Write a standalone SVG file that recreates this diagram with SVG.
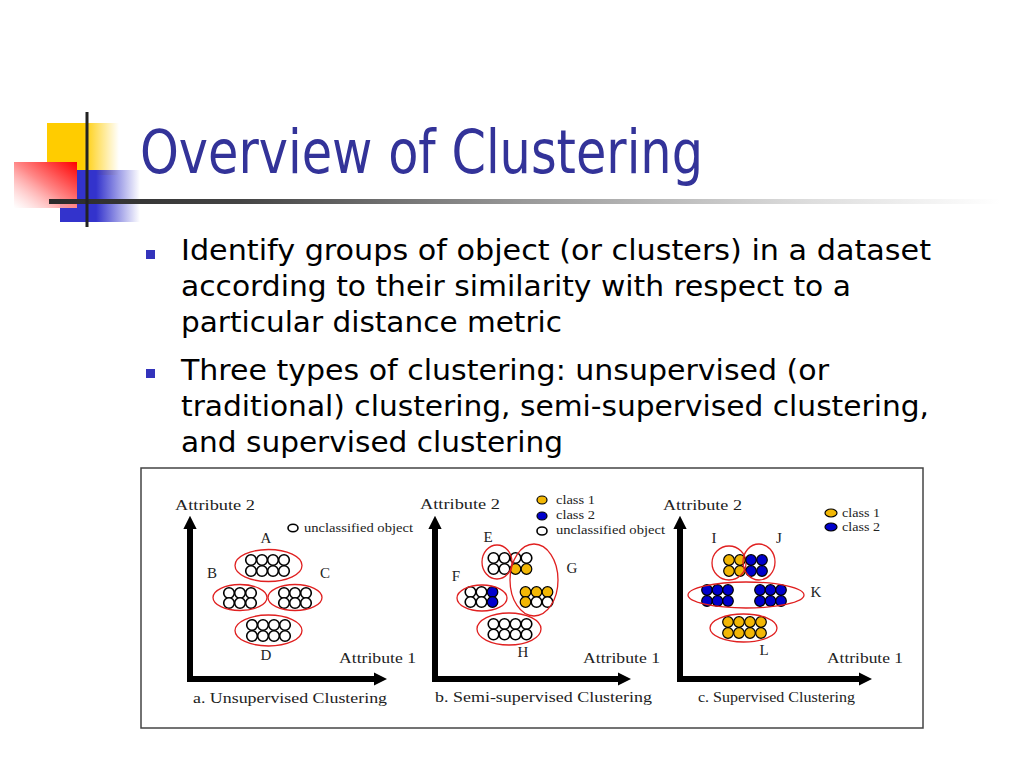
<svg xmlns="http://www.w3.org/2000/svg" width="1024" height="768" viewBox="0 0 1024 768">
<defs>
<style>
.title{font-family:"DejaVu Sans","Liberation Sans",sans-serif;font-size:60px;fill:#333399}
.body{font-family:"DejaVu Sans","Liberation Sans",sans-serif;font-size:29px;fill:#000}
.lbl{font-family:"Liberation Serif","Times New Roman",serif;font-size:15px;fill:#222}
.lg{font-family:"Liberation Serif","Times New Roman",serif;font-size:12px;fill:#222}
.cap{font-family:"Liberation Serif","Times New Roman",serif;font-size:15px;fill:#222}
.w{fill:#fff;stroke:#000;stroke-width:1.6}
.y{fill:#F2B705;stroke:#000;stroke-width:1.2}
.b{fill:#0000CC;stroke:#000;stroke-width:1.2}
.cl{fill:none;stroke:#E02020;stroke-width:1.3}
.ax{fill:none;stroke:#000;stroke-width:6}
.bul{fill:#3333BB}
</style>
<linearGradient id="gY" x1="0" y1="0" x2="1" y2="0">
<stop offset="0" stop-color="#FFCC00"/><stop offset="0.5" stop-color="#FFCC00"/><stop offset="1" stop-color="#FFCC00" stop-opacity="0"/>
</linearGradient>
<linearGradient id="gB" x1="0" y1="0" x2="1" y2="0">
<stop offset="0" stop-color="#3333CC"/><stop offset="0.45" stop-color="#3333CC"/><stop offset="1" stop-color="#3333CC" stop-opacity="0"/>
</linearGradient>
<linearGradient id="gR" x1="1" y1="0" x2="0" y2="1">
<stop offset="0" stop-color="#FF0000"/><stop offset="0.5" stop-color="#FF8888"/><stop offset="1" stop-color="#FFFFFF" stop-opacity="0.6"/>
</linearGradient>
<linearGradient id="gBar" x1="0" y1="0" x2="1" y2="0">
<stop offset="0" stop-color="#2a2a2a"/><stop offset="0.2" stop-color="#444"/><stop offset="0.5" stop-color="#999"/><stop offset="0.8" stop-color="#ddd"/><stop offset="1" stop-color="#fff"/>
</linearGradient>
<marker id="arr" viewBox="0 0 10 10" refX="0" refY="5" markerWidth="2.2" markerHeight="2.4" orient="auto" markerUnits="strokeWidth">
<path d="M0,0 L10,5 L0,10 z" fill="#000"/>
</marker>
</defs>
<rect width="1024" height="768" fill="#fff"/>

<g id="logo">
<rect x="47" y="123" width="72" height="52" fill="url(#gY)"/>
<rect x="60" y="170" width="80" height="52" fill="url(#gB)"/>
<rect x="14" y="162" width="63" height="46" fill="url(#gR)"/>
<rect x="49" y="199" width="951" height="5" fill="url(#gBar)"/>
<rect x="85.5" y="112" width="3" height="115" fill="#222"/>
</g>

<g id="title">
<text class="title" x="140" y="173" textLength="563" lengthAdjust="spacingAndGlyphs">Overview of Clustering</text>
</g>

<g id="bullets">
<rect class="bul" x="146" y="250" width="9" height="9"/>
<rect class="bul" x="146" y="369" width="9" height="9"/>
<text class="body" x="181" y="260" textLength="750" lengthAdjust="spacingAndGlyphs">Identify groups of object (or clusters) in a dataset</text>
<text class="body" x="181" y="296" textLength="670" lengthAdjust="spacingAndGlyphs">according to their similarity with respect to a</text>
<text class="body" x="181" y="332" textLength="381" lengthAdjust="spacingAndGlyphs">particular distance metric</text>
<text class="body" x="181" y="380" textLength="648" lengthAdjust="spacingAndGlyphs">Three types of clustering: unsupervised (or</text>
<text class="body" x="181" y="416" textLength="748" lengthAdjust="spacingAndGlyphs">traditional) clustering, semi-supervised clustering,</text>
<text class="body" x="181" y="452" textLength="382" lengthAdjust="spacingAndGlyphs">and supervised clustering</text>
</g>

<g id="figure">
<rect x="141" y="468" width="782" height="260" fill="#fff" stroke="#444" stroke-width="1.5"/>

<g id="panel-a">
<g id="axes-a">
<path class="ax" d="M190,682 V529" marker-end="url(#arr)"/>
<path class="ax" d="M187,679 H374" marker-end="url(#arr)"/>
</g>
<text class="lbl" x="175" y="510" textLength="80" lengthAdjust="spacingAndGlyphs">Attribute 2</text>
<text class="lbl" x="339" y="663" textLength="77" lengthAdjust="spacingAndGlyphs">Attribute 1</text>
<text class="cap" x="193" y="703" textLength="194" lengthAdjust="spacingAndGlyphs">a. Unsupervised Clustering</text>
<ellipse class="w" cx="293" cy="528" rx="5" ry="3.8"/>
<text class="lg" x="304" y="532" textLength="109" lengthAdjust="spacingAndGlyphs">unclassified object</text>
<text class="lbl" x="266" y="543" text-anchor="middle">A</text>
<text class="lbl" x="212" y="578" text-anchor="middle">B</text>
<text class="lbl" x="325" y="578" text-anchor="middle">C</text>
<text class="lbl" x="266" y="660" text-anchor="middle">D</text>
<g id="cluster-A">
<circle class="w" cx="251" cy="560" r="5.3"/><circle class="w" cx="262" cy="560" r="5.3"/><circle class="w" cx="273" cy="560" r="5.3"/><circle class="w" cx="284" cy="560" r="5.3"/>
<circle class="w" cx="251" cy="571" r="5.3"/><circle class="w" cx="262" cy="571" r="5.3"/><circle class="w" cx="273" cy="571" r="5.3"/><circle class="w" cx="284" cy="571" r="5.3"/>
<ellipse class="cl" cx="268.5" cy="565.5" rx="33.5" ry="16"/>
</g>
<g id="cluster-B">
<circle class="w" cx="229" cy="593" r="5.3"/><circle class="w" cx="240" cy="593" r="5.3"/><circle class="w" cx="251" cy="593" r="5.3"/>
<circle class="w" cx="229" cy="603" r="5.3"/><circle class="w" cx="240" cy="603" r="5.3"/><circle class="w" cx="251" cy="603" r="5.3"/>
<ellipse class="cl" cx="240" cy="597.5" rx="27" ry="13"/>
</g>
<g id="cluster-C">
<circle class="w" cx="284" cy="593" r="5.3"/><circle class="w" cx="295" cy="593" r="5.3"/><circle class="w" cx="306" cy="593" r="5.3"/>
<circle class="w" cx="284" cy="603" r="5.3"/><circle class="w" cx="295" cy="603" r="5.3"/><circle class="w" cx="306" cy="603" r="5.3"/>
<ellipse class="cl" cx="295" cy="597.5" rx="27" ry="13"/>
</g>
<g id="cluster-D">
<circle class="w" cx="252" cy="625" r="5.3"/><circle class="w" cx="263" cy="625" r="5.3"/><circle class="w" cx="274" cy="625" r="5.3"/><circle class="w" cx="285" cy="625" r="5.3"/>
<circle class="w" cx="252" cy="636" r="5.3"/><circle class="w" cx="263" cy="636" r="5.3"/><circle class="w" cx="274" cy="636" r="5.3"/><circle class="w" cx="285" cy="636" r="5.3"/>
<ellipse class="cl" cx="268.5" cy="630.5" rx="33.5" ry="15.5"/>
</g>
</g>

<g id="panel-b">
<g id="axes-b">
<path class="ax" d="M435,682 V529" marker-end="url(#arr)"/>
<path class="ax" d="M432,679 H618" marker-end="url(#arr)"/>
</g>
<text class="lbl" x="420" y="509" textLength="80" lengthAdjust="spacingAndGlyphs">Attribute 2</text>
<text class="lbl" x="583" y="663" textLength="77" lengthAdjust="spacingAndGlyphs">Attribute 1</text>
<text class="cap" x="435" y="702" textLength="217" lengthAdjust="spacingAndGlyphs">b. Semi-supervised Clustering</text>
<ellipse class="y" cx="542" cy="500" rx="5" ry="4"/>
<text class="lg" x="556" y="504" textLength="39" lengthAdjust="spacingAndGlyphs">class 1</text>
<ellipse class="b" cx="542" cy="516" rx="5" ry="4"/>
<text class="lg" x="556" y="519" textLength="39" lengthAdjust="spacingAndGlyphs">class 2</text>
<ellipse class="w" cx="542" cy="531" rx="5" ry="4"/>
<text class="lg" x="556" y="534" textLength="109" lengthAdjust="spacingAndGlyphs">unclassified object</text>
<text class="lbl" x="488" y="542" text-anchor="middle">E</text>
<text class="lbl" x="456" y="581" text-anchor="middle">F</text>
<text class="lbl" x="572" y="573" text-anchor="middle">G</text>
<text class="lbl" x="523" y="657" text-anchor="middle">H</text>
<g id="cluster-EG">
<circle class="w" cx="493.5" cy="558" r="5.3"/><circle class="w" cx="504.5" cy="558" r="5.3"/><circle class="w" cx="515.5" cy="558" r="5.3"/><circle class="w" cx="526.5" cy="558" r="5.3"/>
<circle class="w" cx="493.5" cy="569" r="5.3"/><circle class="w" cx="504.5" cy="569" r="5.3"/><circle class="y" cx="515.5" cy="569" r="5.3"/><circle class="y" cx="526.5" cy="569" r="5.3"/>
<circle class="y" cx="525.5" cy="592" r="5.3"/><circle class="y" cx="536.5" cy="592" r="5.3"/><circle class="y" cx="547.5" cy="592" r="5.3"/>
<circle class="y" cx="525.5" cy="602" r="5.3"/><circle class="w" cx="536.5" cy="602" r="5.3"/><circle class="w" cx="547.5" cy="602" r="5.3"/>
<ellipse class="cl" cx="497" cy="562" rx="15" ry="17"/>
<ellipse class="cl" cx="534" cy="580" rx="24" ry="36"/>
</g>
<g id="cluster-F">
<circle class="w" cx="470.5" cy="592" r="5.3"/><circle class="w" cx="481.5" cy="592" r="5.3"/><circle class="b" cx="492.5" cy="592" r="5.3"/>
<circle class="w" cx="470.5" cy="602" r="5.3"/><circle class="w" cx="481.5" cy="602" r="5.3"/><circle class="b" cx="492.5" cy="602" r="5.3"/>
<ellipse class="cl" cx="482" cy="598" rx="25" ry="13"/>
</g>
<g id="cluster-H">
<circle class="w" cx="493.5" cy="624" r="5.3"/><circle class="w" cx="504.5" cy="624" r="5.3"/><circle class="w" cx="515.5" cy="624" r="5.3"/><circle class="w" cx="526.5" cy="624" r="5.3"/>
<circle class="w" cx="493.5" cy="634.5" r="5.3"/><circle class="w" cx="504.5" cy="634.5" r="5.3"/><circle class="w" cx="515.5" cy="634.5" r="5.3"/><circle class="w" cx="526.5" cy="634.5" r="5.3"/>
<ellipse class="cl" cx="509" cy="629" rx="32" ry="16"/>
</g>
</g>

<g id="panel-c">
<g id="axes-c">
<path class="ax" d="M680,682 V529" marker-end="url(#arr)"/>
<path class="ax" d="M677,679 H859" marker-end="url(#arr)"/>
</g>
<text class="lbl" x="663" y="510" textLength="79" lengthAdjust="spacingAndGlyphs">Attribute 2</text>
<text class="lbl" x="827" y="663" textLength="76" lengthAdjust="spacingAndGlyphs">Attribute 1</text>
<text class="cap" x="698" y="702" textLength="157" lengthAdjust="spacingAndGlyphs">c. Supervised Clustering</text>
<ellipse class="y" cx="831" cy="513" rx="6" ry="4"/>
<text class="lg" x="842" y="517" textLength="38" lengthAdjust="spacingAndGlyphs">class 1</text>
<ellipse class="b" cx="831" cy="527" rx="6" ry="4"/>
<text class="lg" x="842" y="531" textLength="38" lengthAdjust="spacingAndGlyphs">class 2</text>
<text class="lbl" x="714" y="543" text-anchor="middle">I</text>
<text class="lbl" x="779" y="543" text-anchor="middle">J</text>
<text class="lbl" x="816" y="597" text-anchor="middle">K</text>
<text class="lbl" x="764" y="655" text-anchor="middle">L</text>
<g id="cluster-I">
<circle class="y" cx="729" cy="560" r="5.3"/><circle class="y" cx="740" cy="560" r="5.3"/>
<circle class="y" cx="729" cy="571" r="5.3"/><circle class="y" cx="740" cy="571" r="5.3"/>
<ellipse class="cl" cx="729" cy="563" rx="17" ry="17"/>
</g>
<g id="cluster-J">
<circle class="b" cx="751" cy="560" r="5.3"/><circle class="b" cx="762" cy="560" r="5.3"/>
<circle class="b" cx="751" cy="571" r="5.3"/><circle class="b" cx="762" cy="571" r="5.3"/>
<ellipse class="cl" cx="759" cy="562" rx="16" ry="18"/>
</g>
<g id="cluster-K">
<circle class="b" cx="707" cy="590" r="5.3"/><circle class="b" cx="717.5" cy="590" r="5.3"/><circle class="b" cx="728" cy="590" r="5.3"/>
<circle class="b" cx="707" cy="601" r="5.3"/><circle class="b" cx="717.5" cy="601" r="5.3"/><circle class="b" cx="728" cy="601" r="5.3"/>
<circle class="b" cx="760" cy="590" r="5.3"/><circle class="b" cx="770.5" cy="590" r="5.3"/><circle class="b" cx="781" cy="590" r="5.3"/>
<circle class="b" cx="760" cy="601" r="5.3"/><circle class="b" cx="770.5" cy="601" r="5.3"/><circle class="b" cx="781" cy="601" r="5.3"/>
<ellipse class="cl" cx="746" cy="595" rx="58" ry="13"/>
</g>
<g id="cluster-L">
<circle class="y" cx="728" cy="622" r="5.3"/><circle class="y" cx="739" cy="622" r="5.3"/><circle class="y" cx="750" cy="622" r="5.3"/><circle class="y" cx="761" cy="622" r="5.3"/>
<circle class="y" cx="728" cy="633" r="5.3"/><circle class="y" cx="739" cy="633" r="5.3"/><circle class="y" cx="750" cy="633" r="5.3"/><circle class="y" cx="761" cy="633" r="5.3"/>
<ellipse class="cl" cx="743.5" cy="628" rx="33.5" ry="14"/>
</g>
</g>
</g>
</svg>
